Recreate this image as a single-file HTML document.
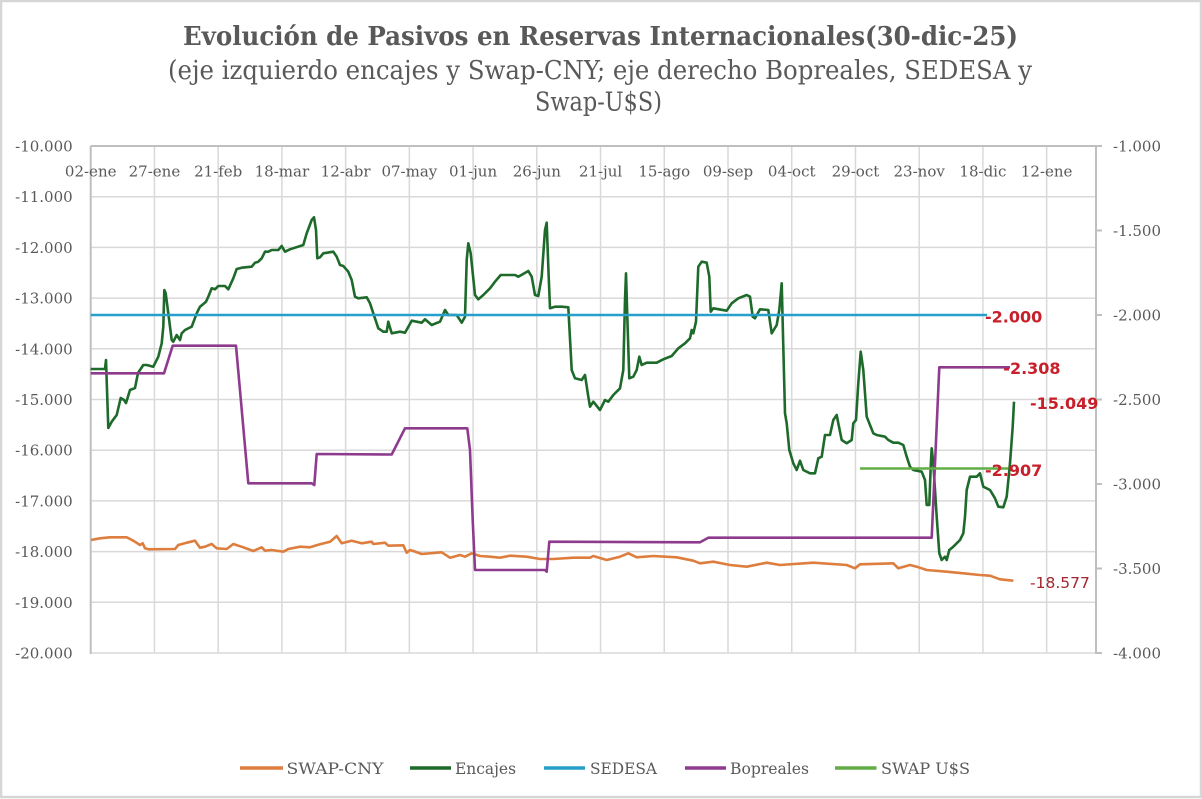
<!DOCTYPE html>
<html>
<head>
<meta charset="utf-8">
<style>
html,body{margin:0;padding:0;background:#fff;}
svg{display:block;}
</style>
</head>
<body>
<svg width="1202" height="799" viewBox="0 0 1202 799" xmlns="http://www.w3.org/2000/svg">
<rect x="0" y="0" width="1202" height="799" fill="#ffffff"/>
<rect x="1" y="1" width="1200" height="796" fill="none" stroke="#D6D6D6" stroke-width="2.5"/>

<!-- Titles -->
<text x="600.5" y="45" text-anchor="middle" font-family="'DejaVu Serif', serif" font-weight="bold" font-size="26" fill="#595959" textLength="835" lengthAdjust="spacingAndGlyphs">Evolución de Pasivos en Reservas Internacionales(30-dic-25)</text>
<text x="600" y="79" text-anchor="middle" font-family="'DejaVu Serif', serif" font-size="26" fill="#595959" textLength="864" lengthAdjust="spacingAndGlyphs">(eje izquierdo encajes y Swap-CNY; eje derecho Bopreales, SEDESA y</text>
<text x="598.5" y="110.5" text-anchor="middle" font-family="'DejaVu Serif', serif" font-size="26" fill="#595959" textLength="127" lengthAdjust="spacingAndGlyphs">Swap-U$S)</text>

<!-- Horizontal gridlines -->
<g stroke="#D9D9D9" stroke-width="1.5">
<line x1="90.7" y1="196.7" x2="1096" y2="196.7"/>
<line x1="90.7" y1="247.4" x2="1096" y2="247.4"/>
<line x1="90.7" y1="298.1" x2="1096" y2="298.1"/>
<line x1="90.7" y1="348.8" x2="1096" y2="348.8"/>
<line x1="90.7" y1="399.5" x2="1096" y2="399.5"/>
<line x1="90.7" y1="450.2" x2="1096" y2="450.2"/>
<line x1="90.7" y1="500.9" x2="1096" y2="500.9"/>
<line x1="90.7" y1="551.6" x2="1096" y2="551.6"/>
<line x1="90.7" y1="602.3" x2="1096" y2="602.3"/>
<line x1="90.7" y1="653" x2="1096" y2="653"/>
<!-- Vertical gridlines -->
<line x1="154.43" y1="146" x2="154.43" y2="653"/>
<line x1="218.16" y1="146" x2="218.16" y2="653"/>
<line x1="281.89" y1="146" x2="281.89" y2="653"/>
<line x1="345.62" y1="146" x2="345.62" y2="653"/>
<line x1="409.35" y1="146" x2="409.35" y2="653"/>
<line x1="473.08" y1="146" x2="473.08" y2="653"/>
<line x1="536.81" y1="146" x2="536.81" y2="653"/>
<line x1="600.54" y1="146" x2="600.54" y2="653"/>
<line x1="664.27" y1="146" x2="664.27" y2="653"/>
<line x1="728.0" y1="146" x2="728.0" y2="653"/>
<line x1="791.73" y1="146" x2="791.73" y2="653"/>
<line x1="855.46" y1="146" x2="855.46" y2="653"/>
<line x1="919.19" y1="146" x2="919.19" y2="653"/>
<line x1="982.92" y1="146" x2="982.92" y2="653"/>
<line x1="1046.65" y1="146" x2="1046.65" y2="653"/>
</g>

<!-- Axis lines -->
<g stroke="#BFBFBF" stroke-width="2">
<line x1="90.7" y1="146" x2="1102" y2="146"/>
<line x1="90.7" y1="146" x2="90.7" y2="654"/>
<line x1="1096" y1="146" x2="1096" y2="654"/>
<line x1="1096" y1="230.5" x2="1102" y2="230.5"/>
<line x1="1096" y1="315" x2="1102" y2="315"/>
<line x1="1096" y1="399.5" x2="1102" y2="399.5"/>
<line x1="1096" y1="484" x2="1102" y2="484"/>
<line x1="1096" y1="568.5" x2="1102" y2="568.5"/>
<line x1="1096" y1="653" x2="1102" y2="653"/>
</g>

<!-- Left axis labels -->
<g font-family="'DejaVu Serif', serif" font-size="15" fill="#595959" text-anchor="end">
<text x="72.7" y="151.5">-10.000</text>
<text x="72.7" y="202.2">-11.000</text>
<text x="72.7" y="252.9">-12.000</text>
<text x="72.7" y="303.6">-13.000</text>
<text x="72.7" y="354.3">-14.000</text>
<text x="72.7" y="405">-15.000</text>
<text x="72.7" y="455.7">-16.000</text>
<text x="72.7" y="506.4">-17.000</text>
<text x="72.7" y="557.1">-18.000</text>
<text x="72.7" y="607.8">-19.000</text>
<text x="72.7" y="658.5">-20.000</text>
</g>

<!-- Right axis labels -->
<g font-family="'DejaVu Serif', serif" font-size="15" fill="#595959" text-anchor="start">
<text x="1113" y="151.5">-1.000</text>
<text x="1113" y="236">-1.500</text>
<text x="1113" y="320.5">-2.000</text>
<text x="1113" y="405">-2.500</text>
<text x="1113" y="489.5">-3.000</text>
<text x="1113" y="574">-3.500</text>
<text x="1113" y="658.5">-4.000</text>
</g>

<!-- Date labels -->
<g font-family="'DejaVu Serif', serif" font-size="15" fill="#595959" text-anchor="middle">
<text x="90.7" y="176.7">02-ene</text>
<text x="154.43" y="176.7">27-ene</text>
<text x="218.16" y="176.7">21-feb</text>
<text x="281.89" y="176.7">18-mar</text>
<text x="345.62" y="176.7">12-abr</text>
<text x="409.35" y="176.7">07-may</text>
<text x="473.08" y="176.7">01-jun</text>
<text x="536.81" y="176.7">26-jun</text>
<text x="600.54" y="176.7">21-jul</text>
<text x="664.27" y="176.7">15-ago</text>
<text x="728.0" y="176.7">09-sep</text>
<text x="791.73" y="176.7">04-oct</text>
<text x="855.46" y="176.7">29-oct</text>
<text x="919.19" y="176.7">23-nov</text>
<text x="982.92" y="176.7">18-dic</text>
<text x="1046.65" y="176.7">12-ene</text>
</g>

<!-- SWAP-CNY -->
<polyline fill="none" stroke="#DD7E3E" stroke-width="2.6" stroke-linejoin="round" points="91,540 100,538.3 110,537.3 126.7,537.3 133.3,540.7 140,545 142.7,543.3 145,548.3 148.3,549.3 175,549 178.3,545 186.7,542.7 195,540.7 200,547.7 205,546.7 211.7,544 216.7,548.3 226.7,549 233.3,544 243.3,547.3 253.3,551 261.7,547.3 265,550.7 271.7,550 283.3,551.7 288.3,549 300,546.7 310,547.3 320,544.3 330,541.7 336.7,536 341.7,543.3 351.7,540.7 361.7,543.3 371.7,541.7 373.3,544 385,542.7 388.3,545.7 403.3,545.3 406.7,552.7 410,550 413.3,551 421.7,554 441.7,552.3 450,557.7 460,555 465,556.7 471.7,553.3 480,556 490,556.7 500,557.7 510,555.7 526.7,556.7 540,559 553.3,559 573.3,557.7 590,557.7 593.3,556 606.7,560 620,556.7 628.3,553.3 636.7,557.3 653.3,556 676.7,557.3 693.3,560.7 700,563.3 713.3,561.7 730,565 746.7,566.7 766.7,562.7 780,565 813.3,562.7 846.7,565 855,568.3 860,564.3 893.3,563.3 898.3,568.3 910,565 916.7,566.7 926.7,570 946.7,571.7 963.3,573.3 980,575 990,575.7 1000,579.3 1013.3,580.7"/>

<!-- Encajes -->
<polyline fill="none" stroke="#1E6A2A" stroke-width="2.6" stroke-linejoin="round" points="90.7,369 105,369 106,360 108.3,428 111.7,421.7 116.7,415 120.7,398 124,400 126,403 130,390 135,388 138,373 143.3,365 146.7,365 153.3,366.7 158.3,356.7 161.7,343.3 163.3,326.7 164.3,290 165.7,293.3 168.3,313.3 171.7,340 173.3,341.7 176.7,335 180,340 181.7,333.3 185,330 191.7,326.7 196.7,313.3 200,306.7 206,301.7 208.3,296.7 211.7,288.3 215,289.3 218.3,286 225,286 228.3,289.3 233.3,278.3 236.7,269 241.7,267.7 251.7,266.7 255,262.7 258.3,261.7 261.7,258.3 265,251.7 268.3,251.7 271.7,250 278.3,250 281.7,246 285,251.7 290,249.3 303.3,245 306.7,233.3 311.7,220 314,217.3 316,230 317.3,258.3 320,257.3 323.3,253.3 333.3,251.7 336.7,256.7 340,265 343.3,266 348.3,271.7 351.7,280 355,296.7 358.3,298.3 366.7,297.3 370,303.3 373.3,313.3 378.3,328.3 383.3,331.7 386.7,331.7 388.3,321.7 391.7,333.3 400,331.7 405,332.7 411.7,320.7 421.7,322.7 425,319.3 431.7,325 440,321.7 445,310 448.3,315 456.7,315 461.7,322.7 465,316.7 466.7,260 468.3,243.3 470.7,253.3 475,295 478.3,299.3 483.3,295 490,288.3 495,281.7 500.7,275 515,275 518.3,276.7 528.3,271 531.7,276.7 535,295 538.3,296 541.7,276.7 545,230 546.7,222.7 548.3,266.7 550,308.3 555,306.7 561.7,306.7 568.3,307.3 571.7,370 575,378.3 581.7,380 585,375 588.3,396.7 590,406.7 593.3,401.7 600,410 605,400 608.3,401.7 613.3,395 620,388.3 623.3,370 625,300 626,273.3 627.3,316.7 629.3,378.3 633.3,376.7 636.7,370 639.3,356.7 641.7,365 646.7,362.7 656.7,362.7 663.3,359.3 671.7,356 678.3,348.3 685,343.3 690,338.3 691.7,330 693.3,333.3 696,321.7 698.3,266.7 701.7,261.7 706.7,262.7 709.3,276.7 710.7,311.7 713.3,308.3 726.7,310.7 731.7,303.3 738.3,298.3 746.7,295 750,296.7 752.7,316.7 755,318.3 760,309.3 768.3,310 771.7,333.3 776.7,325 779.3,310 781.7,283.3 783.3,346.7 785,413.3 786.7,423.3 789.3,450 793.3,463.3 796.7,470 800,460.7 803.3,470 810,473.3 815,473.3 818.3,458.3 821.7,456.7 825,435 830,435 833.3,420 836.7,415 838.3,423.3 841.7,440 846.7,443.3 851.7,440 853.3,423.3 856,420 858.3,383.3 860.7,351.7 863.3,370 866.7,416.7 870,425 873.3,433.3 876.7,435 885,436.7 888.3,440 893.3,442.7 898.3,442.7 903.3,445 906.7,456.7 910,466.7 913.3,470 921.7,471.7 925,480 926.7,505 929.3,505 930.7,466.7 931.7,448.3 933.3,463.3 936.7,516.7 939.3,553.3 941.7,560 945,556.7 946.7,560 949.3,550 953.3,546.7 960,540 963.3,533.3 965,516.7 966.7,490 970,476.7 976.7,476.7 980,473.3 983.3,486.7 990,490 995,498.3 998.3,506.7 1003.3,507.3 1006.7,496.7 1010,463.3 1012.7,426.7 1014,401.7"/>

<!-- SEDESA -->
<line x1="90.7" y1="315" x2="987" y2="315" stroke="#26A0CA" stroke-width="2.6"/>

<!-- Bopreales -->
<polyline fill="none" stroke="#8E3B8E" stroke-width="2.6" stroke-linejoin="round" points="90.7,373.3 164,373.3 172.7,345.7 236,345.7 248.3,483.3 311.7,483.3 314.3,485 316.7,454 391.7,454.5 405,428.3 467.3,428.3 470,450 472.7,520 475,570 545,570 546.7,571.7 549.3,541.7 700,542.3 708.3,537.7 931.7,537.7 939.3,367.3 1010,367.3"/>

<!-- SWAP U$S -->
<line x1="860" y1="468.5" x2="1008.3" y2="468.5" stroke="#62AD45" stroke-width="2.6"/>

<!-- Data labels -->
<g font-family="'DejaVu Sans', sans-serif" font-weight="bold" font-size="16" fill="#C8202A">
<text x="985" y="322.7">-2.000</text>
<text x="1003.3" y="374">-2.308</text>
<text x="1030" y="409">-15.049</text>
<text x="985" y="476">-2.907</text>
</g>
<text x="1030" y="588" font-family="'DejaVu Sans', sans-serif" font-size="15.5" fill="#A3262E">-18.577</text>

<!-- Legend -->
<g stroke-width="3.5">
<line x1="240" y1="768" x2="283" y2="768" stroke="#DD7E3E"/>
<line x1="410" y1="768" x2="451" y2="768" stroke="#1E6A2A"/>
<line x1="544" y1="768" x2="585" y2="768" stroke="#26A0CA"/>
<line x1="685" y1="768" x2="726" y2="768" stroke="#8E3B8E"/>
<line x1="835" y1="768" x2="876.5" y2="768" stroke="#62AD45"/>
</g>
<g font-family="'DejaVu Serif', serif" font-size="16" fill="#595959">
<text x="286.5" y="774" textLength="97" lengthAdjust="spacingAndGlyphs">SWAP-CNY</text>
<text x="455" y="774" textLength="61" lengthAdjust="spacingAndGlyphs">Encajes</text>
<text x="590" y="774" textLength="67" lengthAdjust="spacingAndGlyphs">SEDESA</text>
<text x="730" y="774" textLength="79" lengthAdjust="spacingAndGlyphs">Bopreales</text>
<text x="881" y="774" textLength="89" lengthAdjust="spacingAndGlyphs">SWAP U$S</text>
</g>
</svg>
</body>
</html>
